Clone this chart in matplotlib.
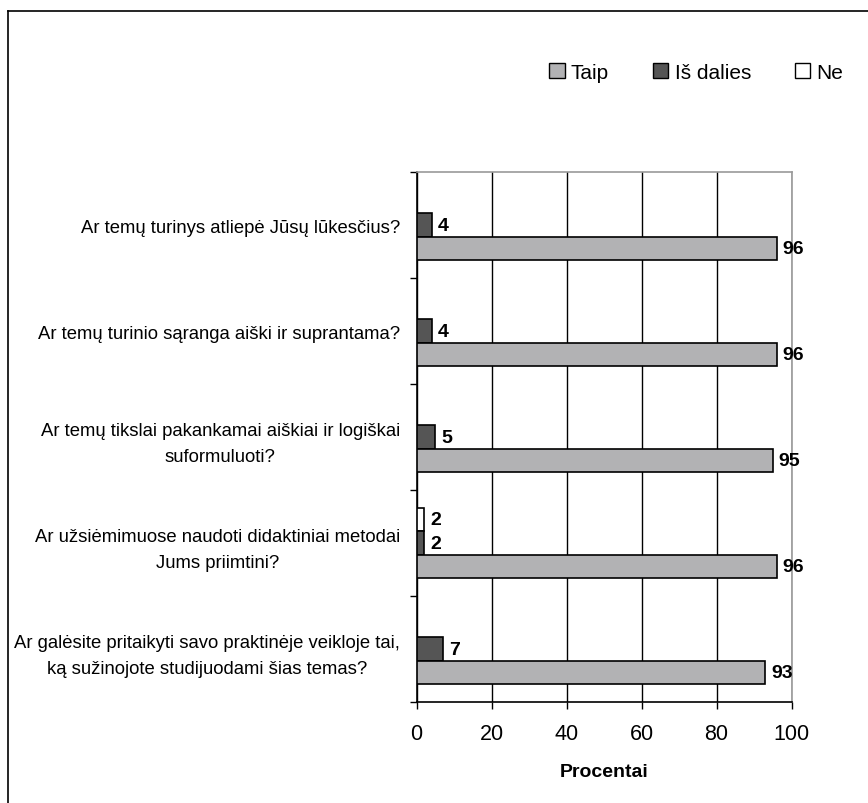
import numpy as np
import matplotlib
matplotlib.use("Agg")
import matplotlib.pyplot as plt
from matplotlib.patches import Patch
from matplotlib.lines import Line2D

plt.rcParams['font.family'] = ['Liberation Sans', 'DejaVu Sans']

# question labels, top to bottom
questions = [
    "Ar temų turinys atliepė Jūsų lūkesčius?",
    "Ar temų turinio sąranga aiški ir suprantama?",
    "Ar temų tikslai pakankamai aiškiai ir logiškai\nsuformuluoti?",
    "Ar užsiėmimuose naudoti didaktiniai metodai\nJums priimtini?",
    "Ar galėsite pritaikyti savo praktinėje veikloje tai,\nką sužinojote studijuodami šias temas?",
]
taip = [96, 96, 95, 96, 93]
is_dalies = [4, 4, 5, 2, 7]
ne = [0, 0, 0, 2, 0]
x_ticks = [0, 20, 40, 60, 80, 100]

c_taip = "#b2b2b4"
c_dalies = "#555555"
c_ne = "#ffffff"

fig = plt.figure(figsize=(8.68, 8.04), dpi=100)
ax = fig.add_axes([0.480, 0.1256, 0.432, 0.659])

y = np.arange(len(questions))
h = 0.222

series = [(ne, c_ne, -h), (is_dalies, c_dalies, 0), (taip, c_taip, h)]
for vals, col, off in series:
    bars = ax.barh(y + off, vals, height=h, color=col, edgecolor="black", linewidth=1.2, zorder=3)
    for b, v in zip(bars, vals):
        if v > 0:
            ax.text(b.get_width() + 1.6, b.get_y() + b.get_height() / 2, str(v),
                    va="center", ha="left", fontsize=14, fontweight="bold", zorder=4)

ax.set_xlim(0, 100)
ax.set_ylim(len(questions) - 0.5, -0.5)
ax.set_xticks(x_ticks)
ax.set_xticklabels([str(t) for t in x_ticks], fontsize=15.5)
ax.set_yticks(y)
ax.set_yticklabels(questions, fontsize=13.3, multialignment="center", linespacing=1.7)
ax.tick_params(axis="y", length=0, pad=12)
ax.set_yticks(np.arange(len(questions) + 1) - 0.5, minor=True)
ax.tick_params(axis="y", which="minor", length=5, width=1, direction="out")
ax.tick_params(axis="x", length=5, width=1, direction="out", pad=10)

ax.grid(axis="x", color="black", linewidth=1, zorder=0)
ax.spines["top"].set_color("#9a9a9a")
ax.spines["right"].set_color("#9a9a9a")
for s in ax.spines.values():
    s.set_linewidth(1.2)

ax.set_xlabel("Procentai", fontsize=14, fontweight="bold", labelpad=14)

handles = [Patch(facecolor=c_taip, edgecolor="black", label="Taip"),
           Patch(facecolor=c_dalies, edgecolor="black", label="Iš dalies"),
           Patch(facecolor=c_ne, edgecolor="black", label="Ne")]
fig.legend(handles=handles, loc="center", bbox_to_anchor=(0.802, 0.909), ncol=3, frameon=False,
           fontsize=15, handlelength=0.75, handleheight=0.75, handletextpad=0.3,
           columnspacing=2.1, borderaxespad=0)

# outer frame (top and left edges visible)
fig.add_artist(Line2D([8 / 868, 8 / 868], [0, 1 - 12 / 804], color="black", linewidth=1.2,
                      transform=fig.transFigure))
fig.add_artist(Line2D([8 / 868, 1], [1 - 12 / 804, 1 - 12 / 804], color="black", linewidth=1.2,
                      transform=fig.transFigure))

fig.savefig("out.png", dpi=100)
